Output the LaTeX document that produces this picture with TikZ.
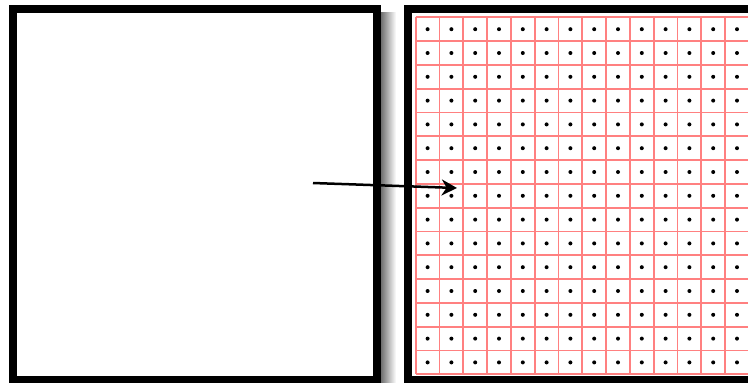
\documentclass[tikz,border=0pt]{standalone}
\usepackage{tikz}
\usetikzlibrary{arrows.meta}

\begin{document}
\begin{tikzpicture}[
    x=0.03cm, y=-0.03cm,
    frame/.style={draw=black, line width=0.24cm, rectangle, minimum width=10.9cm, minimum height=11.13cm, inner sep=0pt},
    cellline/.style={draw=red!50, line width=0.05cm},
    cdot/.style={fill=black, circle, inner sep=0pt, minimum size=0.12cm},
    arr/.style={-{Stealth[length=0.46cm, width=0.48cm]}, line width=0.075cm}
]

% Page
\useasboundingbox (0,0) rectangle (748,382);
\clip (0,0) rectangle (748,382);

% Shadow of the empty frame
\shade[left color=black!60, right color=white] (380,12) rectangle (396,382);

% Grid of cells with centre points
\foreach \i in {0,...,14}
    \draw[cellline] (415.7+23.8*\i, 17.3) -- (415.7+23.8*\i, 374.3);
\foreach \j in {0,...,15}
    \draw[cellline] (415.7, 17.3+23.8*\j) -- (765, 17.3+23.8*\j);
\foreach \i in {0,...,13}
    \foreach \j in {0,...,14}
        \node[cdot] (d-\i-\j) at (427.6+23.8*\i, 29.2+23.8*\j) {};

% Frames
\node[frame] (blank) at (195, 194.5) {};
\node[frame] (grid)  at (589.7, 194.5) {};

% Arrow
\coordinate (from) at (313, 183);
\coordinate (to)   at (457, 188);
\draw[arr] (from) -- (to);

\end{tikzpicture}
\end{document}
